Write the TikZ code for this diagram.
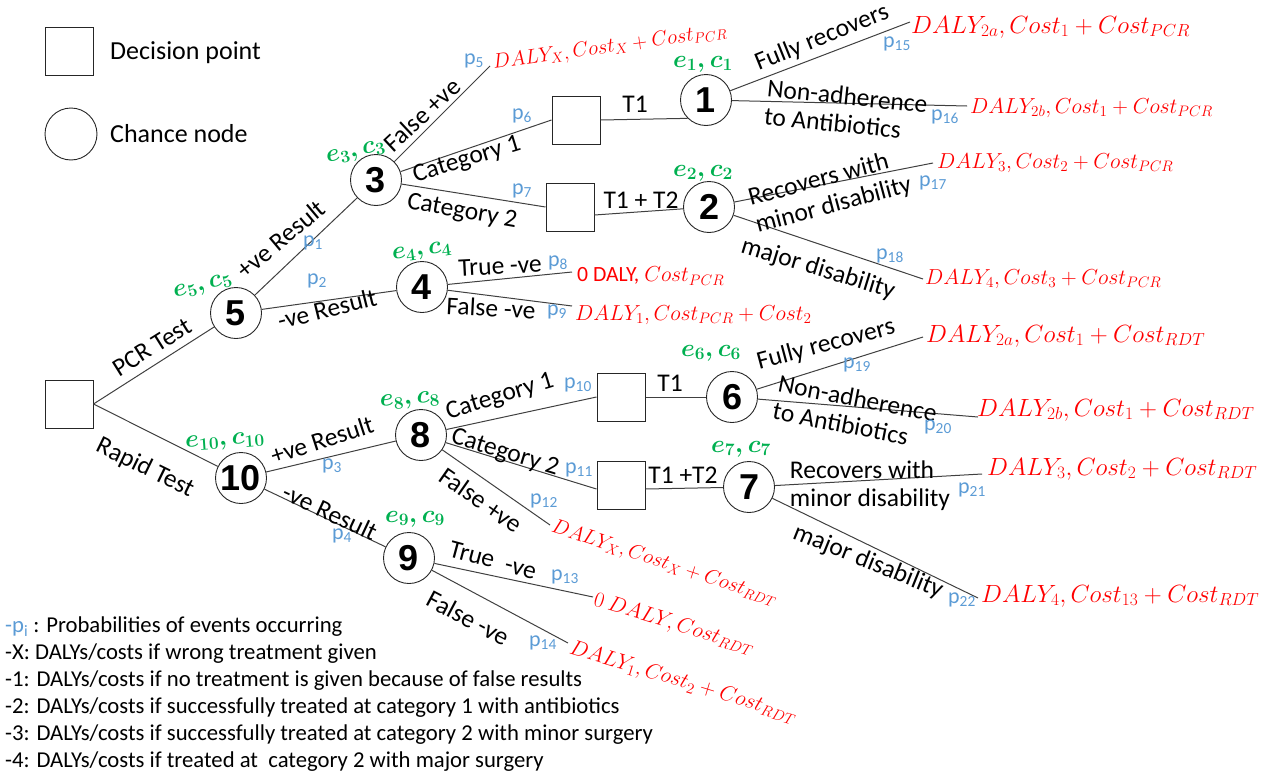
\RequirePackage{fix-cm}
\documentclass[tikz,border=0pt]{standalone}
\usepackage{fontspec}
\setmainfont{Carlito}
\newfontfamily\numfont{Liberation Sans}
\usetikzlibrary{calc}
\definecolor{pblue}{RGB}{91,155,213}
\definecolor{egreen}{RGB}{0,176,80}
\definecolor{lgrey}{RGB}{64,64,64}
\begin{document}
\begin{tikzpicture}[x=1pt,y=-1pt,
  dec/.style={draw=black!85, minimum size=48pt, inner sep=0pt, line width=1pt},
  chance/.style={draw=black!85, circle, minimum size=51pt, inner sep=0pt, line width=0.9pt,
     font=\numfont\bfseries\fontsize{36}{36}\selectfont},
  br/.style={draw=lgrey, line width=1pt},
  lbl/.style={font=\fontsize{25.5}{28}\selectfont, inner sep=0pt},
  pl/.style={text=pblue, font=\fontsize{22}{24}\selectfont, inner sep=0pt},
  ec/.style={text=egreen, font=\fontsize{24.9}{25}\selectfont\boldmath, inner sep=0pt},
  outc/.style={text=red, font=\fontsize{24.9}{27}\selectfont, anchor=west, inner sep=0pt},
  outs/.style={text=red, font=\fontsize{21.7}{24}\selectfont, anchor=west, inner sep=0pt},
  outx/.style={text=red, font=\fontsize{20.6}{23}\selectfont, anchor=west, inner sep=0pt},
  leg/.style={font=\fontsize{26}{30}\selectfont, anchor=west, inner sep=0pt},
  note/.style={font=\fontsize{22.7}{25}\selectfont, anchor=west, inner sep=0pt}]
\useasboundingbox (0,0) rectangle (1276,779);

% legend
\node[dec] (legD) at (69,51) {};
\node[leg] (legDt) at (110,53) {Decision point};
\node[draw=black!85, circle, minimum size=52pt, inner sep=0pt, line width=0.9pt] (legC) at (71,134) {};
\node[leg] (legCt) at (110,134) {Chance node};

% nodes
\node[dec] (root) at (69,404) {};
\node[chance] (n5) at (236,313) {5};
\node[chance] (n10) at (241,478) {10};
\node[chance] (n3) at (376,180) {3};
\node[chance] (n4) at (422,287) {4};
\node[chance] (n8) at (421,435) {8};
\node[chance] (n9) at (409,558) {9};
\node[chance] (n1) at (706,100) {1};
\node[chance] (n2) at (709,207) {2};
\node[chance] (n6) at (732,397) {6};
\node[chance] (n7) at (749,487) {7};
\node[dec] (sqA) at (576,120) {};
\node[dec] (sqB) at (570,207) {};
\node[dec] (sqC) at (621,397) {};
\node[dec] (sqD) at (621,485) {};

% terminal points
\coordinate (c5) at (490,66);
\coordinate (c8) at (572,272);
\coordinate (c9) at (572,306);
\coordinate (c12) at (550,525);
\coordinate (c13) at (593,597);
\coordinate (c14) at (568,643);
\coordinate (c15) at (910,22);
\coordinate (c16) at (967,106);
\coordinate (c17) at (933,163);
\coordinate (c18) at (923,279);
\coordinate (c19) at (923,337);
\coordinate (c20) at (978,417);
\coordinate (c21) at (982,474);
\coordinate (c22) at (978,598);

% connectors
\draw[br] (root.east) -- (n5);
\draw[br] (root.east) -- (n10);
\draw[br] (n5) -- (n3);
\draw[br] (n5) -- (n4);
\draw[br] (n3) -- (c5);
\draw[br] (n3) -- (sqA.west);
\draw[br] (n3) -- (sqB.west);
\draw[br] (sqA.east) -- (n1.south west);
\draw[br] ([yshift=-8pt]sqB.east) -- (n2);
\draw[br] (n1) -- (c15);
\draw[br] (n1) -- (c16);
\draw[br] (n2) -- (c17);
\draw[br] (n2) -- (c18);
\draw[br] (n4) -- (c8);
\draw[br] (n4) -- (c9);
\draw[br] (n10) -- (n8);
\draw[br] (n10) -- (n9);
\draw[br] (n8) -- (sqC.west);
\draw[br] (n8) -- ([yshift=-4pt]sqD.west);
\draw[br] (n8) -- (c12);
\draw[br] (sqC.east) -- (n6);
\draw[br] ([yshift=-4pt]sqD.east) -- (n7);
\draw[br] (n6) -- (c19);
\draw[br] (n6) -- (c20);
\draw[br] (n7) -- (c21);
\draw[br] (n7) -- (c22);
\draw[br] (n9) -- (c13);
\draw[br] (n9) -- (c14);

% branch labels
\node[lbl, rotate=32] (l1) at (152,347) {PCR Test};
\node[lbl, rotate=-26] (l2) at (145,468) {Rapid Test};
\node[lbl, rotate=40] (l3) at (281,239) {+ve Result};
\node[lbl, rotate=14] (l4) at (327,309) {-ve Result};
\node[lbl, rotate=43] (l5) at (422,115) {False +ve};
\node[lbl, rotate=17] (l6) at (467,160) {Category 1};
\node[lbl, rotate=-10] (l7) at (462,212) {Category 2};
\node[lbl] (l8) at (635,104) {T1};
\node[lbl] (l9) at (641,200) {T1 + T2};
\node[lbl, rotate=22] (l10) at (822,38) {Fully recovers};
\node[lbl, rotate=-6, align=left] (l11) at (846,110) {Non-adherence\\to Antibiotics};
\node[lbl, rotate=15, align=left] (l12) at (830,192) {Recovers with\\minor disability};
\node[lbl, rotate=-17] (l13) at (818,269) {major disability};
\node[lbl, rotate=3] (l14) at (500,266) {True -ve};
\node[lbl, rotate=-3] (l15) at (491,308) {False -ve};
\node[lbl, rotate=18] (l16) at (322,440) {+ve Result};
\node[lbl, rotate=-25] (l17) at (330,512) {-ve Result};
\node[lbl, rotate=17] (l18) at (500,397) {Category 1};
\node[lbl, rotate=-17] (l19) at (505,453) {Category 2};
\node[lbl, rotate=-35] (l20) at (481,500) {False +ve};
\node[lbl] (l21) at (670,383) {T1};
\node[lbl] (l22) at (683,475) {T1 +T2};
\node[lbl, rotate=15] (l23) at (826,345) {Fully recovers};
\node[lbl, rotate=-11, align=left] (l24) at (855,412) {Non-adherence\\to Antibiotics};
\node[lbl, align=left] (l25) at (870,486) {Recovers with\\minor disability};
\node[lbl, rotate=-22] (l26) at (868,562) {major disability};
\node[lbl, rotate=-15] (l27) at (493,560) {True\ \ -ve};
\node[lbl, rotate=-28] (l28) at (468,618) {False -ve};

% probabilities
\node[pl] (p1) at (313,243) {p\textsubscript{1}};
\node[pl] (p2) at (317,281) {p\textsubscript{2}};
\node[pl] (p3) at (332,466) {p\textsubscript{3}};
\node[pl] (p4) at (342,536) {p\textsubscript{4}};
\node[pl] (p5) at (474,61) {p\textsubscript{5}};
\node[pl] (p6) at (522,116) {p\textsubscript{6}};
\node[pl] (p7) at (522,191) {p\textsubscript{7}};
\node[pl] (p8) at (558,263) {p\textsubscript{8}};
\node[pl] (p9) at (557,312) {p\textsubscript{9}};
\node[pl] (p10) at (578,385) {p\textsubscript{10}};
\node[pl] (p11) at (579,470) {p\textsubscript{11}};
\node[pl] (p12) at (544,501) {p\textsubscript{12}};
\node[pl] (p13) at (565,577) {p\textsubscript{13}};
\node[pl] (p14) at (543,643) {p\textsubscript{14}};
\node[pl] (p15) at (897,44) {p\textsubscript{15}};
\node[pl] (p16) at (945,117) {p\textsubscript{16}};
\node[pl] (p17) at (933,183) {p\textsubscript{17}};
\node[pl] (p18) at (890,256) {p\textsubscript{18}};
\node[pl] (p19) at (857,365) {p\textsubscript{19}};
\node[pl] (p20) at (938,427) {p\textsubscript{20}};
\node[pl] (p21) at (972,490) {p\textsubscript{21}};
\node[pl] (p22) at (962,600) {p\textsubscript{22}};

% effects and costs
\node[ec] (e1) at (703,64) {$e_1, c_1$};
\node[ec] (e2) at (703,173) {$e_2, c_2$};
\node[ec, rotate=12] (e3) at (356,153) {$e_3, c_3$};
\node[ec, rotate=8] (e4) at (422,252) {$e_4, c_4$};
\node[ec, rotate=15] (e5) at (203,287) {$e_5, c_5$};
\node[ec] (e6) at (711,353) {$e_6, c_6$};
\node[ec] (e7) at (741,449) {$e_7, c_7$};
\node[ec, rotate=5] (e8) at (410,401) {$e_8, c_8$};
\node[ec] (e9) at (415,519) {$e_9, c_9$};
\node[ec, rotate=4] (e10) at (225,442) {$e_{10}, c_{10}$};

% outcomes
\node[outx, rotate=8] (o5) at (493,64) {$DALY_X, Cost_X + Cost_{PCR}$};
\node[outc] (o15) at (911,27) {$DALY_{2a}, Cost_1 + Cost_{PCR}$};
\node[outs] (o16) at (970,108) {$DALY_{2b}, Cost_1 + Cost_{PCR}$};
\node[outs] (o17) at (937,163) {$DALY_3, Cost_2 + Cost_{PCR}$};
\node[outs] (o18) at (925,279) {$DALY_4, Cost_3 + Cost_{PCR}$};
\node[outs] (o8) at (577,276) {0 DALY, $Cost_{PCR}$};
\node[outs] (o9) at (575,315) {$DALY_1, Cost_{PCR} + Cost_2$};
\node[outc] (o19) at (926,336) {$DALY_{2a}, Cost_1 + Cost_{RDT}$};
\node[outc] (o20) at (977,410) {$DALY_{2b}, Cost_1 + Cost_{RDT}$};
\node[outc] (o21) at (987,469) {$DALY_3, Cost_2 + Cost_{RDT}$};
\node[outc] (o22) at (981,596) {$DALY_4, Cost_{13} + Cost_{RDT}$};
\node[outx, rotate=-18] (o12) at (552,527) {$DALY_X, Cost_X + Cost_{RDT}$};
\node[outs, rotate=-17] (o13) at (594,600) {$0\ DALY, Cost_{RDT}$};
\node[outs, rotate=-17] (o14) at (570,648) {$DALY_1, Cost_2 + Cost_{RDT}$};

% notes
\node[note] (t1) at (5,627) {{\color{pblue}-p\textsubscript{i}} : Probabilities of events occurring};
\node[note] (t2) at (5,654) {-X: DALYs/costs if wrong treatment given};
\node[note] (t3) at (5,681) {-1: DALYs/costs if no treatment is given because of false results};
\node[note] (t4) at (5,708) {-2: DALYs/costs if successfully treated at category 1 with antibiotics};
\node[note] (t5) at (5,735) {-3: DALYs/costs if successfully treated at category 2 with minor surgery};
\node[note] (t6) at (5,762) {-4: DALYs/costs if treated at\ \ category 2 with major surgery};
\end{tikzpicture}
\end{document}
